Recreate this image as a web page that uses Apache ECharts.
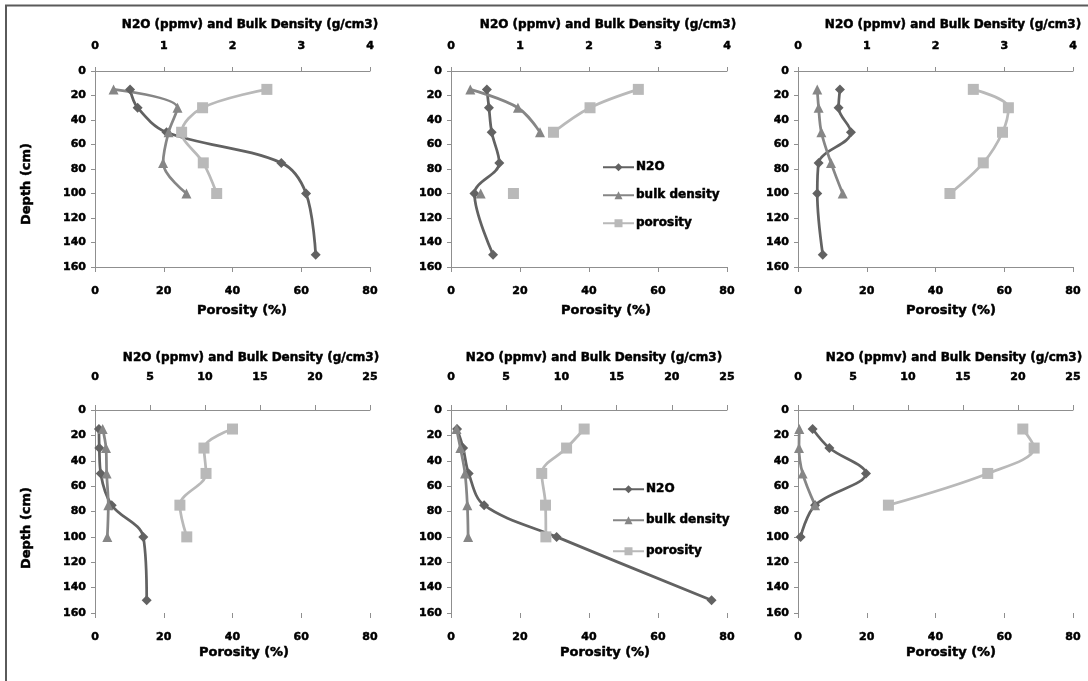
<!DOCTYPE html>
<html>
<head>
<meta charset="utf-8">
<script src="https://cdn.jsdelivr.net/npm/echarts@6/dist/echarts.min.js"></script>
<style>
  html, body { margin: 0; padding: 0; background: #fff; }
  #chart { width: 1088px; height: 681px; }
</style>
</head>
<body>
<div id="chart"></div>
<script>
// Sampling depths (cm)
const depth = [15, 30, 50, 75, 100, 150];

// Site profiles: N2O (ppmv), bulk density (g/cm3), porosity (%)
const n2oA  = [0.51, 0.62, 1.04, 2.71, 3.07, 3.21];
const bulkA = [0.27, 1.20, 1.07, 0.99, 1.33];
const poroA = [50.0, 31.3, 25.2, 31.5, 35.4];

const n2oB  = [0.52, 0.55, 0.59, 0.70, 0.34, 0.61];
const bulkB = [0.28, 0.97, 1.29, null, 0.43];
const poroB = [54.3, 40.3, 29.7, null, 18.1];

const n2oC  = [0.61, 0.59, 0.77, 0.30, 0.28, 0.36];
const bulkC = [0.28, 0.30, 0.34, 0.48, 0.65];
const poroC = [51.0, 61.2, 59.5, 53.9, 44.2];

const n2oD  = [0.36, 0.39, 0.52, 1.52, 4.39, 4.70];
const bulkD = [0.70, 1.00, 1.06, 1.21, 1.12];
const poroD = [40.0, 31.7, 32.3, 24.7, 26.7];

const n2oE  = [0.55, 1.10, 1.60, 3.00, 9.57, 23.6];
const bulkE = [0.50, 0.85, 1.27, 1.48, 1.55];
const poroE = [38.6, 33.5, 26.3, 27.4, 27.5];

const n2oF  = [1.33, 2.85, 6.18, 1.55, 0.24];
const bulkF = [0.12, 0.09, 0.42, 1.55];
const poroF = [65.4, 68.7, 55.2, 26.3];

// Axis scales
const depthTicks = { min: 0, max: 160, interval: 20 };
const topScaleUpper = { min: 0, max: 4, interval: 1 };
const topScaleLower = { min: 0, max: 25, interval: 5 };
const porosityScale = { min: 0, max: 80, interval: 20 };

const seriesNames = ['N2O', 'bulk density', 'porosity'];
const topTitle = 'N2O (ppmv) and Bulk Density (g/cm3)';
const bottomTitle = 'Porosity (%)';
const depthTitle = 'Depth (cm)';

const panels = [
  { n2o: n2oA, bulk: bulkA, poro: poroA, row: 0 },
  { n2o: n2oB, bulk: bulkB, poro: poroB, row: 0 },
  { n2o: n2oC, bulk: bulkC, poro: poroC, row: 0 },
  { n2o: n2oD, bulk: bulkD, poro: poroD, row: 1 },
  { n2o: n2oE, bulk: bulkE, poro: poroE, row: 1 },
  { n2o: n2oF, bulk: bulkF, poro: poroF, row: 1 }
];

// Layout
const gridBoxes = [
  { left: 95,  top: 71,  width: 275, height: 196 },
  { left: 451, top: 71,  width: 276, height: 196 },
  { left: 798, top: 71,  width: 275, height: 196 },
  { left: 95,  top: 410, width: 275, height: 203 },
  { left: 451, top: 410, width: 276, height: 203 },
  { left: 798, top: 410, width: 275, height: 203 }
];
const topTitlePos = [[250, 25], [608, 25], [953, 25], [251, 358], [594, 358], [954, 358]];
const bottomTitlePos = [[242, 311], [606, 311], [951, 311], [244, 653], [605, 653], [951, 653]];

const FONT = 'DejaVu Sans';
const axisColor = '#8f8f8f';
const colN2O = '#626262';
const colBulk = '#868686';
const colPoro = '#b9b9b9';

// Heavy black lettering
const heavy = { textBorderColor: '#000', textBorderWidth: 0.5 };

const labelStyle = (margin) => Object.assign({
  margin, color: '#000', fontWeight: 'bold', fontSize: 11, fontFamily: FONT
}, heavy);

function toPairs(values) {
  return values.map((v, i) => [v == null ? '-' : v, depth[i]]);
}

const grid = [], xAxis = [], yAxis = [], series = [], graphic = [];

panels.forEach((p, i) => {
  grid.push(Object.assign({ containLabel: false }, gridBoxes[i]));
  const topScale = p.row === 0 ? topScaleUpper : topScaleLower;

  xAxis.push(Object.assign({
    gridIndex: i, type: 'value', position: 'top',
    axisLine: { show: true, onZero: false, lineStyle: { color: axisColor, width: 1 } },
    axisTick: { show: true, inside: false, length: p.row === 0 ? 4 : 5, lineStyle: { color: axisColor } },
    axisLabel: labelStyle(p.row === 0 ? 19 : 27),
    splitLine: { show: false }
  }, topScale));

  xAxis.push(Object.assign({
    gridIndex: i, type: 'value', position: 'bottom',
    axisLine: { show: p.row === 0, onZero: false, lineStyle: { color: axisColor, width: 1 } },
    axisTick: { show: true, length: 5, lineStyle: { color: axisColor } },
    axisLabel: labelStyle(19),
    splitLine: { show: false }
  }, porosityScale));

  yAxis.push(Object.assign({
    gridIndex: i, type: 'value', inverse: true,
    axisLine: { show: true, onZero: false, lineStyle: { color: axisColor, width: 1 } },
    axisTick: { show: true, length: 4, lineStyle: { color: axisColor } },
    axisLabel: labelStyle(9),
    splitLine: { show: false }
  }, depthTicks));

  const common = { type: 'line', yAxisIndex: i, smooth: 0.35, animation: false, z: 3 };
  series.push(Object.assign({}, common, {
    name: seriesNames[0], xAxisIndex: 2 * i, data: toPairs(p.n2o),
    symbol: 'diamond', symbolSize: 10,
    lineStyle: { color: colN2O, width: 2.75 }, itemStyle: { color: colN2O }
  }));
  series.push(Object.assign({}, common, {
    name: seriesNames[1], xAxisIndex: 2 * i, data: toPairs(p.bulk),
    symbol: 'triangle', symbolSize: 10,
    lineStyle: { color: colBulk, width: 2.75 }, itemStyle: { color: colBulk }
  }));
  series.push(Object.assign({}, common, {
    name: seriesNames[2], xAxisIndex: 2 * i + 1, data: toPairs(p.poro),
    symbol: 'rect', symbolSize: 11,
    lineStyle: { color: colPoro, width: 2.75 }, itemStyle: { color: colPoro }
  }));

  const titleStyle = Object.assign({ fontFamily: FONT, fontWeight: 'bold', fontSize: 12, fill: '#000', stroke: '#000', lineWidth: 0.5, textAlign: 'center', textVerticalAlign: 'middle' });
  graphic.push({ type: 'text', x: topTitlePos[i][0], y: topTitlePos[i][1], style: Object.assign({ text: topTitle }, titleStyle) });
  graphic.push({ type: 'text', x: bottomTitlePos[i][0], y: bottomTitlePos[i][1], style: Object.assign({ text: bottomTitle }, titleStyle, { fontSize: 13 }) });
});

// Depth titles on the left column
[[27, 184], [27, 528]].forEach(([x, y]) => {
  graphic.push({
    type: 'text', x, y, rotation: Math.PI / 2,
    style: { text: depthTitle, fontFamily: FONT, fontWeight: 'bold', fontSize: 13, fill: '#000', stroke: '#000', lineWidth: 0.5, textAlign: 'center', textVerticalAlign: 'middle' }
  });
});

// Outer frame
graphic.push({
  type: 'polyline', z: 10,
  shape: { points: [[6, 681], [6, 5.5], [1088, 5.5]] },
  style: { stroke: '#5a5a5a', lineWidth: 2, fill: null }
});

const legendBase = {
  data: seriesNames, orient: 'vertical', padding: 0,
  itemWidth: 31, itemHeight: 10, selectedMode: false,
  textStyle: Object.assign({ color: '#000', fontWeight: 'bold', fontSize: 12, fontFamily: FONT, padding: [0, 0, 0, -3] }, heavy)
};

const chart = echarts.init(document.getElementById('chart'), null, { renderer: 'canvas' });
chart.setOption({
  animation: false,
  backgroundColor: '#fff',
  grid, xAxis, yAxis, series, graphic,
  legend: [
    Object.assign({}, legendBase, { left: 602, top: 161, itemGap: 15.5 }),
    Object.assign({}, legendBase, { left: 612, top: 483, itemGap: 18.5 })
  ]
});
</script>
</body>
</html>
